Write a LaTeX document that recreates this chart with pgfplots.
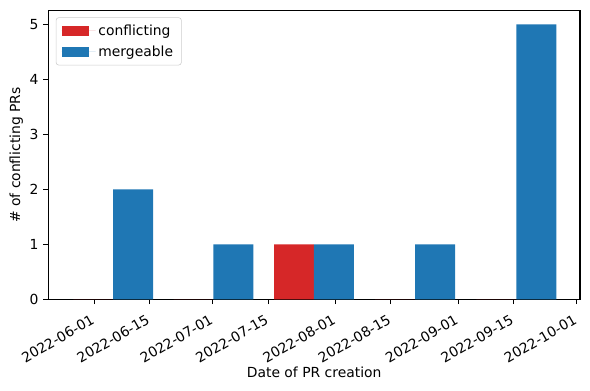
\documentclass[border=0pt]{standalone}
\usepackage{fontspec}
\setmainfont{DejaVu Sans}
\usepackage{pgfplots}
\pgfplotsset{compat=1.18}
\definecolor{tabblue}{HTML}{1F77B4}
\definecolor{tabred}{HTML}{D62728}
\definecolor{leggray}{gray}{0.8}
\begin{document}
\begin{tikzpicture}
\begin{axis}[name=ax, scale only axis, width=382.8pt, height=207.8pt,
  xmin=-11.6, xmax=122.8, ymin=0, ymax=5.25,
  xtick={0,14,30,44,61,75,92,106,122},
  xticklabels={2022-06-01,2022-06-15,2022-07-01,2022-07-15,2022-08-01,2022-08-15,2022-09-01,2022-09-15,2022-10-01},
  xticklabel style={rotate=30, anchor=north east, inner sep=1pt, xshift=-5pt, yshift=-3.5pt},
  ytick={0,1,2,3,4,5},
  tick align=outside, major tick length=3.5pt,
  every tick/.style={black, line width=0.8pt},
  axis line style={line width=0.8pt},
  xtick pos=lower, ytick pos=left,
  /pgf/number format/assume math mode=true,
  xlabel={Date of PR creation}, ylabel={\# of conflicting PRs},
  xlabel style={yshift=2.5pt},
  ylabel style={yshift=-2pt},
  legend style={at={(0.014,0.977)}, anchor=north west, draw=leggray, rounded corners=2pt, fill=white, row sep=2pt, inner xsep=4pt, inner ysep=3pt},
  legend cell align=left,
  legend image code/.code={\fill[#1, sharp corners] (0pt,-3.5pt) rectangle (19.7pt,3.5pt); \path (0pt,0pt) -- (24.5pt,0pt);},
]
\addplot[ybar, bar width=10.1, bar shift=0pt, fill=tabred, draw=none, sharp corners] coordinates {(-0.25,0) (25.1,0) (50.5,1) (76.05,0) (101.65,0)};
\addlegendentry{conflicting}
\addplot[ybar, bar width=10.1, bar shift=0pt, fill=tabblue, draw=none, sharp corners] coordinates {(9.85,2) (35.2,1) (60.6,1) (86.15,1) (111.75,5)};
\addlegendentry{mergeable}
\end{axis}
\path (ax.south west) ++(-34.8pt,-65.3pt) rectangle ([shift={(7.2pt,7.7pt)}]ax.north east);
\end{tikzpicture}
\end{document}
